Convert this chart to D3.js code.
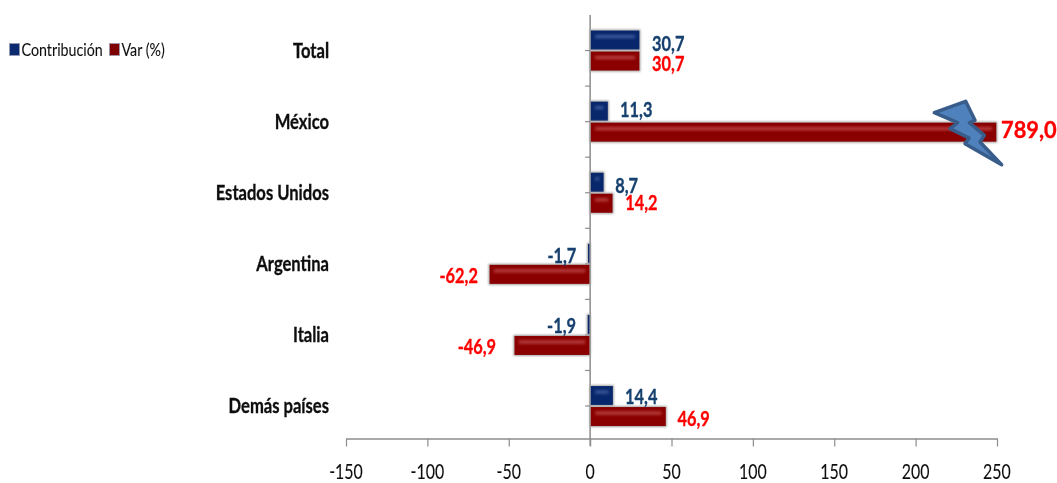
<!DOCTYPE html>
<html><head><meta charset="utf-8">
<script src="https://cdn.jsdelivr.net/npm/d3@7"></script>
<style>html,body{margin:0;padding:0;background:#fff}svg{display:block}text{font-family:Lato,"Liberation Sans",sans-serif}</style>
</head><body><svg id="c" width="1057" height="483"></svg>
<script>
const categories=["Total","México","Estados Unidos","Argentina","Italia","Demás países"];
const contribucion=[30.7,11.3,8.7,-1.7,-1.9,14.4];
const variacion=[30.7,789.0,14.2,-62.2,-46.9,46.9];
const xTicks=[-150,-100,-50,0,50,100,150,200,250];
const seriesNames=["Contribución","Var (%)"];
const svg=d3.select("#c");
const x=d3.scaleLinear().domain([-150,250]).range([346,997]).clamp(true);
const y=d3.scaleBand().domain(categories).range([15,441.6]);
const fmt=v=>v.toFixed(1).replace(".",",");
const defs=svg.append("defs");
const soft=defs.append("filter").attr("id","soft").attr("x","-30%").attr("y","-30%").attr("width","160%").attr("height","160%");
soft.append("feGaussianBlur").attr("stdDeviation",.8);
const hl=defs.append("filter").attr("id","hl").attr("x","-30%").attr("y","-60%").attr("width","160%").attr("height","220%");
hl.append("feGaussianBlur").attr("stdDeviation",1.4);
const tf=defs.append("filter").attr("id","t").attr("x","-5%").attr("y","-10%").attr("width","110%").attr("height","120%");
tf.append("feGaussianBlur").attr("stdDeviation",.25);
const axisCol="#8c8c8c";
function label(g,px,py,str,o){
 return g.append("text").attr("transform",`translate(${px},${py}) scale(${o.sx},1)`)
  .attr("text-anchor",o.anchor||"start").attr("font-size",o.size).attr("font-weight",o.weight||"normal")
  .attr("fill",o.fill).attr("stroke",o.fill).attr("stroke-width",o.weight?.35:.1).attr("filter","url(#t)").text(str);
}
// axes
const gx=svg.append("g").attr("transform","translate(0,438.5)").call(d3.axisBottom(x).tickValues(xTicks).tickSize(8).tickSizeOuter(0).tickFormat(""));
gx.select(".domain").attr("stroke",axisCol).attr("stroke-width",1.5);
gx.selectAll(".tick line").attr("stroke",axisCol).attr("stroke-width",1.2);
xTicks.forEach(t=>label(svg,x(t),479,String(t),{size:21,sx:.76,anchor:"middle",fill:"#111"}));
const gy=svg.append("g");
gy.append("line").attr("x1",x(0)).attr("x2",x(0)).attr("y1",15).attr("y2",446).attr("stroke",axisCol).attr("stroke-width",1.5);
const tickYs=[];categories.forEach(c=>{tickYs.push(y(c)+y.bandwidth()/2);tickYs.push(y(c)+y.bandwidth());});
gy.selectAll("line.t").data(tickYs.filter(d=>d<430)).join("line").attr("class","t").attr("x1",x(0)-5).attr("x2",x(0)).attr("y1",d=>d).attr("y2",d=>d).attr("stroke",axisCol).attr("stroke-width",1.2);
// category labels
categories.forEach(c=>label(svg,329,y(c)+y.bandwidth()/2+7,c,{size:21,sx:.79,anchor:"end",weight:"bold",fill:"#111"}));
// bars
function bars(vals,top,body,light){
 const g=svg.append("g");
 categories.forEach((c,i)=>{
  const v=vals[i],x0=Math.min(x(0),x(v)),w=Math.abs(x(v)-x(0)),yy=y(c)+y.bandwidth()/2+top,h=21;
  g.append("rect").attr("x",x0-.3).attr("y",yy).attr("width",w+.6).attr("height",h).attr("fill","#a0a0a0").attr("filter","url(#soft)");
  g.append("rect").attr("x",x0+.7).attr("y",yy+1).attr("width",Math.max(w-1.4,.8)).attr("height",h-2).attr("fill",body);
  if(w>8) g.append("rect").attr("x",x0+5).attr("y",yy+5.5).attr("width",w-10).attr("height",3).attr("fill",light).attr("filter","url(#hl)");
 });
}
bars(contribucion,-21,"#08266b","#3f5c9f");
bars(variacion,0,"#8a0000","#bb4545");
// value labels
const blueOffs=[[12,0],[11.6,-5],[11,0],[-11,-1],[-11,-2],[11.5,-2.5]];
const redOffs=[[12,20],[4,16],[12,17.5],[-11,19],[-17.7,19],[11,19.5]];
const lab=(vals,offs,col)=>categories.forEach((c,i)=>{
 const v=vals[i],big=v>250;
 label(svg,x(v)+offs[i][0],y(c)+y.bandwidth()/2+offs[i][1],fmt(v),
  {size:big?23:21,sx:big?.95:.78,anchor:v<0?"end":"start",weight:"bold",fill:col});
});
lab(contribucion,blueOffs,"#17406d");
lab(variacion,redOffs,"#ff0000");
// lightning annotation
const zap=[[28,62],[122,28],[150,85],[133,92],[178,130],[165,150],[230,218],[120,155],[132,138],[75,110],[98,92]];
svg.append("polygon").attr("points",zap.map(p=>[925+p[0]/3,92+p[1]/3].join(",")).join(" "))
 .attr("fill","#4f81bd").attr("stroke","#385d8a").attr("stroke-width",3.5).attr("stroke-linejoin","round");
// legend
[[9,"#0b2a6f",21.5,seriesNames[0]],[109,"#7e0000",121.5,seriesNames[1]]].forEach(d=>{
 svg.append("rect").attr("x",d[0]+.5).attr("y",43.5).attr("width",10).attr("height",12).attr("fill",d[1]).attr("stroke","#9a9ab0").attr("stroke-width",.8);
 label(svg,d[2],55.5,d[3],{size:17,sx:.84,fill:"#111"});
});
</script></body></html>
